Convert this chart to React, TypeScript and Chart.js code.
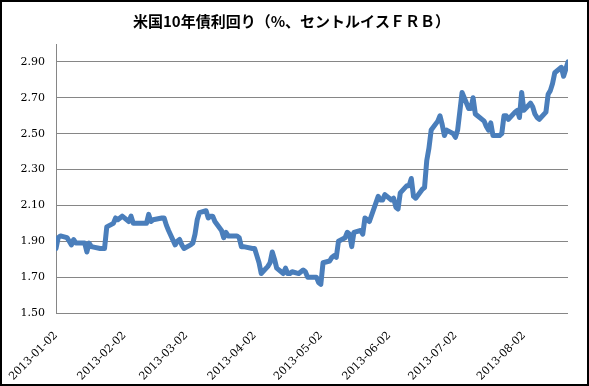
import React, { useEffect, useRef } from "react";
import { Chart, registerables } from "chart.js";

Chart.register(...registerables);

const TITLE = "米国10年債利回り（%、セントルイスＦＲＢ）";

const dates: string[] = [
  "2013-01-02","2013-01-03","2013-01-04","2013-01-07","2013-01-08","2013-01-09","2013-01-10","2013-01-11",
  "2013-01-14","2013-01-15","2013-01-16","2013-01-17","2013-01-18","2013-01-22","2013-01-23","2013-01-24",
  "2013-01-25","2013-01-28","2013-01-29","2013-01-30","2013-01-31",
  "2013-02-01","2013-02-04","2013-02-05","2013-02-06","2013-02-07","2013-02-08","2013-02-11","2013-02-12",
  "2013-02-13","2013-02-14","2013-02-15","2013-02-19","2013-02-20","2013-02-21","2013-02-22","2013-02-25",
  "2013-02-26","2013-02-27","2013-02-28",
  "2013-03-01","2013-03-04","2013-03-05","2013-03-06","2013-03-07","2013-03-08","2013-03-11","2013-03-12",
  "2013-03-13","2013-03-14","2013-03-15","2013-03-18","2013-03-19","2013-03-20","2013-03-21","2013-03-22",
  "2013-03-25","2013-03-26","2013-03-27","2013-03-28",
  "2013-04-01","2013-04-02","2013-04-03","2013-04-04","2013-04-05","2013-04-08","2013-04-09","2013-04-10",
  "2013-04-11","2013-04-12","2013-04-15","2013-04-16","2013-04-17","2013-04-18","2013-04-19","2013-04-22",
  "2013-04-23","2013-04-24","2013-04-25","2013-04-26","2013-04-29","2013-04-30",
  "2013-05-01","2013-05-02","2013-05-03","2013-05-06","2013-05-07","2013-05-08","2013-05-09","2013-05-10",
  "2013-05-13","2013-05-14","2013-05-15","2013-05-16","2013-05-17","2013-05-20","2013-05-21","2013-05-22",
  "2013-05-23","2013-05-24","2013-05-28","2013-05-29","2013-05-30","2013-05-31",
  "2013-06-03","2013-06-04","2013-06-05","2013-06-06","2013-06-07","2013-06-10","2013-06-11","2013-06-12",
  "2013-06-13","2013-06-14","2013-06-17","2013-06-18","2013-06-19","2013-06-20","2013-06-21","2013-06-24",
  "2013-06-25","2013-06-26","2013-06-27","2013-06-28",
  "2013-07-01","2013-07-02","2013-07-03","2013-07-05","2013-07-08","2013-07-09","2013-07-10","2013-07-11",
  "2013-07-12","2013-07-15","2013-07-16","2013-07-17","2013-07-18","2013-07-19","2013-07-22","2013-07-23",
  "2013-07-24","2013-07-25","2013-07-26","2013-07-29","2013-07-30","2013-07-31",
  "2013-08-01","2013-08-02","2013-08-05","2013-08-06","2013-08-07","2013-08-08","2013-08-09","2013-08-12",
  "2013-08-13","2013-08-14","2013-08-15","2013-08-16","2013-08-19","2013-08-20","2013-08-21","2013-08-22",
];

const yields: number[] = [
  1.86,1.92,1.93,1.92,1.90,1.88,1.91,1.89,
  1.89,1.89,1.84,1.89,1.87,1.86,1.86,1.86,
  1.98,2.00,2.03,2.02,2.03,
  2.04,2.01,2.04,2.00,2.00,2.00,2.00,2.00,
  2.05,2.01,2.02,2.03,2.03,1.99,1.96,1.88,
  1.90,1.91,1.88,
  1.86,1.88,1.89,1.94,2.02,2.06,2.07,2.03,
  2.04,2.04,2.01,1.96,1.92,1.95,1.93,1.93,
  1.93,1.92,1.87,1.87,
  1.86,1.86,1.82,1.78,1.72,1.76,1.78,1.84,
  1.80,1.75,1.72,1.75,1.72,1.72,1.73,1.72,
  1.73,1.74,1.73,1.70,1.70,1.70,
  1.67,1.66,1.78,1.79,1.81,1.82,1.81,1.90,
  1.92,1.95,1.94,1.87,1.95,1.96,1.94,2.03,
  2.02,2.01,2.15,2.13,2.13,2.16,
  2.13,2.14,2.09,2.08,2.17,2.21,2.21,2.25,
  2.15,2.14,2.19,2.20,2.35,2.42,2.52,2.57,
  2.60,2.55,2.49,2.52,
  2.50,2.48,2.52,2.73,2.64,2.64,2.70,2.61,
  2.60,2.57,2.54,2.52,2.56,2.49,2.49,2.50,
  2.60,2.60,2.58,2.62,2.63,2.59,
  2.73,2.63,2.67,2.65,2.61,2.59,2.58,2.62,
  2.72,2.74,2.78,2.84,2.87,2.82,2.86,2.90,
];

const xTickLabels: string[] = [
  "2013-01-02","2013-02-02","2013-03-02","2013-04-02",
  "2013-05-02","2013-06-02","2013-07-02","2013-08-02",
];

const yTickValues: number[] = [1.5, 1.7, 1.9, 2.1, 2.3, 2.5, 2.7, 2.9];

const dayOffset = (s: string) => {
  const [y, m, d] = s.split("-").map(Number);
  return Math.round((Date.UTC(y, m - 1, d) - Date.UTC(2013, 0, 2)) / 86400000);
};

const frame = {
  id: "frame",
  beforeDraw(chart: any) {
    const ctx = chart.ctx;
    ctx.save();
    ctx.fillStyle = "#ffffff";
    ctx.fillRect(0, 0, chart.width, chart.height);
    ctx.restore();
  },
  afterDraw(chart: any) {
    const ctx = chart.ctx;
    ctx.save();
    ctx.fillStyle = "#000000";
    ctx.font = "bold 15px 'Noto Sans CJK JP'";
    ctx.textAlign = "center";
    ctx.textBaseline = "middle";
    ctx.fillText(TITLE, chart.width / 2 - 3, 21);
    ctx.strokeStyle = "#000000";
    ctx.lineWidth = 2;
    ctx.strokeRect(1, 1, chart.width - 2, chart.height - 2);
    ctx.restore();
  },
};

export default function App() {
  const ref = useRef<HTMLCanvasElement | null>(null);

  useEffect(() => {
    document.body.style.margin = "0";
    if (!ref.current) return;
    const xTickValues = xTickLabels.map(dayOffset);
    const points = dates.map((d, i) => ({ x: dayOffset(d), y: yields[i] }));
    const chart = new Chart(ref.current, {
      type: "line",
      data: {
        datasets: [
          {
            data: points,
            borderColor: "#4a7ebb",
            borderWidth: 5,
            pointRadius: 0,
            tension: 0,
            borderJoinStyle: "round",
            borderCapStyle: "round",
            fill: false,
          },
        ],
      },
      options: {
        animation: false,
        responsive: false,
        layout: { padding: { left: 0, right: 21, top: 44, bottom: 0 } },
        plugins: {
          legend: { display: false },
          tooltip: { enabled: false },
          title: { display: false },
        },
        scales: {
          x: {
            type: "linear",
            min: 0,
            max: dayOffset(dates[dates.length - 1]),
            afterBuildTicks: (scale: any) => {
              scale.ticks = xTickValues.map((v) => ({ value: v }));
            },
            afterFit: (scale: any) => {
              scale.height = 73;
            },
            grid: { display: false },
            border: { display: false },
            ticks: {
              autoSkip: false,
              minRotation: 45,
              maxRotation: 45,
              padding: 8,
              color: "#000000",
              font: { family: "'DejaVu Serif'", size: 11 },
              callback: (value: any) => {
                const i = xTickValues.indexOf(Number(value));
                return i >= 0 ? xTickLabels[i] : "";
              },
            },
          },
          y: {
            type: "linear",
            min: 1.5,
            max: 3.0,
            afterBuildTicks: (scale: any) => {
              scale.ticks = yTickValues.map((v) => ({ value: v }));
            },
            afterFit: (scale: any) => {
              scale.width = 56;
            },
            grid: { color: "#868686", lineWidth: 1, drawTicks: false },
            border: { display: true, color: "#868686", width: 1 },
            ticks: {
              padding: 11,
              color: "#000000",
              font: { family: "'DejaVu Serif'", size: 11 },
              callback: (value: any) => Number(value).toFixed(2),
            },
          },
        },
      },
      plugins: [frame],
    });
    return () => chart.destroy();
  }, []);

  return (
    <canvas
      ref={ref}
      width={589}
      height={386}
      style={{ display: "block", width: 589, height: 386 }}
    />
  );
}
